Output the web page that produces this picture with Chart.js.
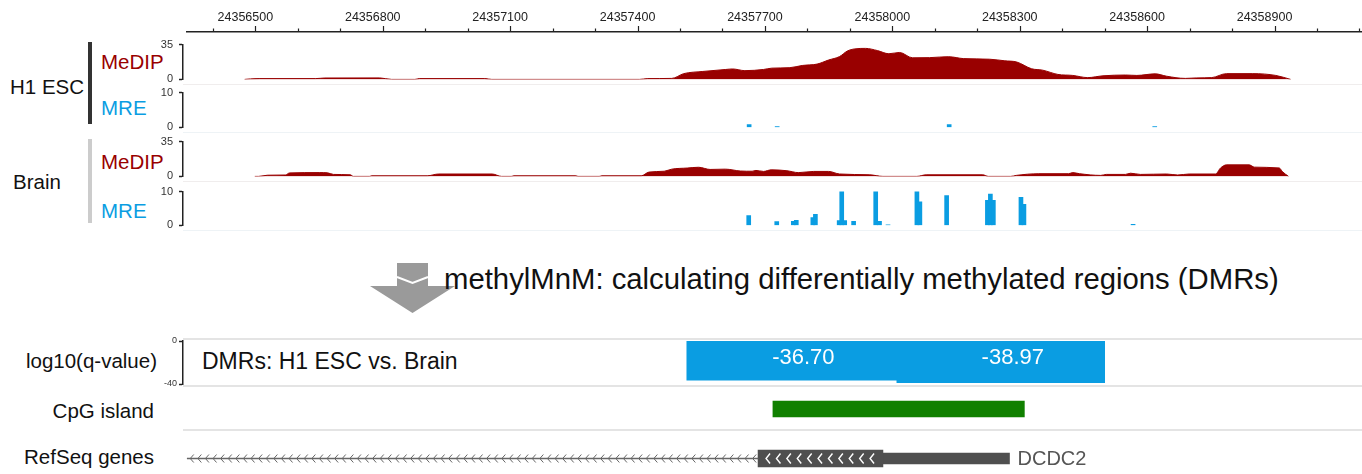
<!DOCTYPE html>
<html>
<head>
<meta charset="utf-8">
<title>methylMnM DMR view</title>
<script src="https://cdn.jsdelivr.net/npm/chart.js@4.4.1/dist/chart.umd.min.js"></script>
<style>
  html, body { margin: 0; padding: 0; background: #fff; }
  #page { position: relative; width: 1362px; height: 474px; overflow: hidden; font-family: "Liberation Sans", Arial, Helvetica, sans-serif; color: #111; }
  #page canvas, #page .box, #page svg { position: absolute; }
  .txt { position: absolute; white-space: nowrap; line-height: 1; }
  .sep { position: absolute; left: 183px; width: 1179px; }
</style>
</head>
<body>
<div id="page">
  <!-- faint track baselines -->
  <div class="sep" style="top:84px;height:1px;background:#f0eded"></div>
  <div class="sep" style="top:132px;height:1px;background:#eef3f6"></div>
  <div class="sep" style="top:181px;height:1px;background:#f0eded"></div>
  <div class="sep" style="top:230px;height:1px;background:#eef3f6"></div>
  <div class="sep" style="top:338px;height:2px;background:#e4e4e4"></div>
  <div class="sep" style="top:385px;height:2px;background:#e4e4e4"></div>
  <div class="sep" style="top:429px;height:2px;background:#e4e4e4"></div>

  <!-- sample labels -->
  <div class="box" style="left:88px;top:42px;width:4px;height:82px;background:#333"></div>
  <div class="box" style="left:88px;top:139px;width:4px;height:84px;background:#ccc"></div>
  <div class="txt" style="left:10px;top:77px;font-size:20.5px">H1 ESC</div>
  <div class="txt" style="left:13px;top:172px;font-size:20.5px">Brain</div>
  <div class="txt" style="left:101px;top:52px;font-size:20.5px;color:#990000">MeDIP</div>
  <div class="txt" style="left:101px;top:98px;font-size:20.5px;color:#0a9de2">MRE</div>
  <div class="txt" style="left:101px;top:152px;font-size:20.5px;color:#990000">MeDIP</div>
  <div class="txt" style="left:101px;top:201px;font-size:20.5px;color:#0a9de2">MRE</div>

  <!-- arrow + step text -->
  <svg style="left:360px;top:258px" width="110" height="60">
    <polygon points="37,5 68,5 68,28 95,28 52.5,55 10,28 37,28" fill="#9a9a9a"/>
    <polyline points="37,19 52.5,25 68,19" stroke="#fff" stroke-width="2" fill="none"/>
  </svg>
  <div class="txt" style="left:444px;top:264px;font-size:29.3px">methylMnM: calculating differentially methylated regions (DMRs)</div>

  <div class="txt" style="right:1205px;top:351px;font-size:20.5px;text-align:right">log10(q-value)</div>
  <div class="txt" style="left:202px;top:350px;font-size:23px">DMRs: H1 ESC vs. Brain</div>
  <div class="txt" style="right:1208px;top:401px;font-size:20.5px;text-align:right">CpG island</div>
  <div class="txt" style="right:1208px;top:447px;font-size:20.5px;text-align:right">RefSeq genes</div>

  <canvas id="ruler" width="1362" height="36" style="left:0;top:0"></canvas>
  <canvas id="h1Medip" width="1362" height="60" style="left:0;top:32px"></canvas>
  <canvas id="h1Mre" width="1362" height="60" style="left:0;top:80px"></canvas>
  <canvas id="brainMedip" width="1362" height="60" style="left:0;top:129px"></canvas>
  <canvas id="brainMre" width="1362" height="59" style="left:0;top:179px"></canvas>
  <canvas id="dmr" width="1362" height="59" style="left:0;top:333px"></canvas>
  <canvas id="cpg" width="1362" height="40" style="left:0;top:389px"></canvas>
  <canvas id="gene" width="1362" height="41" style="left:0;top:438px"></canvas>
</div>

<script>
// genomic window (chr6) shown in the browser
const viewStart = 24356330;
const viewEnd = 24359106;

// ruler labels
const rulerLabels = [24356500, 24356800, 24357100, 24357400, 24357700, 24358000, 24358300, 24358600, 24358900];

// MeDIP coverage
const h1MedipPos = [24356475, 24356489, 24356511, 24356642, 24356664, 24356793, 24356821, 24356876, 24356887, 24357040,
  24357057, 24357405, 24357424, 24357481, 24357509, 24357554, 24357608, 24357624, 24357653, 24357697,
  24357716, 24357759, 24357788, 24357823, 24357850, 24357876, 24357894, 24357912, 24357937, 24357965,
  24357992, 24358017, 24358048, 24358088, 24358133, 24358168, 24358229, 24358265, 24358293, 24358328,
  24358354, 24358390, 24358425, 24358460, 24358496, 24358549, 24358576, 24358619, 24358646, 24358690,
  24358717, 24358752, 24358787, 24358849, 24358903, 24358938];
const h1MedipVal = [0, 0.5, 0.8, 0.8, 1.4, 1.5, 0, 0, 0.8, 0.8,
  0, 0, 0.8, 1, 5.8, 8, 10, 10.5, 8.8, 10,
  11.3, 11.8, 14, 15.4, 19.5, 23, 28.5, 30.7, 31.2, 29,
  25.8, 27.1, 21.7, 21.9, 22.8, 20.9, 20.3, 18.7, 17.5, 10.7,
  9.3, 5, 4, 1.8, 3.6, 4.4, 4, 5.6, 3.2, 1,
  1.5, 1.8, 5.8, 5.8, 4, 0];

const brainMedipPos = [24356499, 24356508, 24356529, 24356571, 24356581, 24356652, 24356670, 24356684, 24356724, 24356731,
  24356769, 24356774, 24356905, 24356932, 24357058, 24357080, 24357103, 24357109, 24357255, 24357260,
  24357310, 24357316, 24357409, 24357427, 24357463, 24357481, 24357517, 24357544, 24357571, 24357607,
  24357643, 24357670, 24357679, 24357697, 24357715, 24357752, 24357779, 24357815, 24357850, 24357876,
  24357947, 24357978, 24358058, 24358080, 24358213, 24358226, 24358279, 24358292, 24358345, 24358415,
  24358425, 24358441, 24358491, 24358504, 24358549, 24358561, 24358584, 24358646, 24358672, 24358699,
  24358761, 24358773, 24358787, 24358840, 24358853, 24358911, 24358919, 24358933];
const brainMedipVal = [0, 0, 1.2, 1.4, 3.5, 3.8, 3.6, 2, 1.6, 0,
  0, 0.6, 0.6, 2.4, 2.4, 0, 0, 0.6, 0.6, 0,
  0, 0.6, 0.6, 4.3, 5.2, 7.3, 8.4, 9.2, 7, 7.3,
  5.4, 5.2, 6, 5, 6.6, 5.7, 3.8, 5, 5, 2.4,
  1.6, 0, 0, 1.6, 1.6, 0, 0, 1, 2.7, 2.7,
  3.8, 2.7, 1, 2, 2, 3.2, 2, 2.4, 1.4, 2.4,
  2.4, 8.5, 11.6, 11.6, 9.3, 8.5, 4.6, 0];

// MRE reads per CpG site
const h1MrePos = [24357663, 24357729, 24358134, 24358618];
const h1MreVal = [0.8, 0.2, 0.8, 0.2];
const brainMrePos = [24357662, 24357728, 24357767, 24357774, 24357813, 24357819, 24357875, 24357881, 24357888, 24357909,
  24357961, 24357970, 24357990, 24358058, 24358065, 24358128, 24358224, 24358231, 24358238, 24358303,
  24358310, 24358567];
const brainMreVal = [2.9, 1.1, 1.2, 1.5, 2.3, 3.3, 1.4, 10.3, 1.4, 1.2,
  11, 1.2, 0.2, 11, 7, 8.8, 7.4, 9.3, 7.4, 8.3,
  6.2, 0.3];

// DMRs (log10 q-value)
const dmrStart = [24357515, 24358010];
const dmrEnd = [24358010, 24358501];
const dmrQ = [-36.70, -38.97];

// CpG island
const cpgStart = [24357719];
const cpgEnd = [24358311];

// RefSeq gene DCDC2 (minus strand, starts left of the view)
const geneName = 'DCDC2';
const geneStart = 24356340;
const exonStart = [24357684, 24357978];
const exonEnd = [24357978, 24358276];

const FONT = "'Liberation Sans', Arial, sans-serif";
Chart.defaults.font.family = FONT;
Chart.defaults.animation = false;
Chart.defaults.events = [];
Chart.defaults.plugins.legend.display = false;
Chart.defaults.plugins.tooltip.enabled = false;

function pts(pos, val) {
  return pos.map((p, i) => ({ x: p, y: val[i] }));
}

function xHidden() {
  return { type: 'linear', display: false, min: viewStart, max: viewEnd, offset: false, grid: { offset: false } };
}

function bracketAxis(min, max, fontSize, pad) {
  return {
    min: min, max: max,
    afterBuildTicks: s => { s.ticks = [{ value: min }, { value: max }]; },
    afterFit: s => { s.width = 183; },
    ticks: { color: '#333', font: { size: fontSize }, padding: pad },
    grid: { drawOnChartArea: false, tickLength: 4, tickColor: '#222', tickWidth: 1.5 },
    border: { color: '#222', width: 1.5 }
  };
}

// ruler: every 100 bp a tick, every 300 bp a label
const rulerTicks = [];
for (let v = 24356400; v <= 24359100; v += 100) rulerTicks.push(v);

const rulerMarks = {
  id: 'rulerMarks',
  afterDraw(chart) {
    const { ctx, scales: { x } } = chart;
    const base = x.bottom;
    ctx.save();
    ctx.strokeStyle = '#222';
    ctx.lineWidth = 1.2;
    rulerTicks.forEach(v => {
      const px = Math.round(x.getPixelForValue(v)) + 0.5;
      const len = rulerLabels.includes(v) ? 6 : 3.5;
      ctx.beginPath();
      ctx.moveTo(px, base - len);
      ctx.lineTo(px, base);
      ctx.stroke();
    });
    ctx.restore();
  }
};

new Chart(document.getElementById('ruler'), {
  type: 'scatter',
  data: { datasets: [] },
  options: {
    responsive: false,
    layout: { padding: { left: 187, right: 0, top: 0, bottom: 0 } },
    scales: {
      x: {
        type: 'linear', position: 'top', min: viewStart + 9, max: viewEnd,
        afterBuildTicks: s => { s.ticks = rulerTicks.map(v => ({ value: v })); },
        afterFit: s => { s.height = 32; },
        ticks: {
          autoSkip: false, maxRotation: 0, labelOffset: -10, padding: 1, color: '#222', font: { size: 12.5 },
          callback: v => rulerLabels.includes(v) ? String(v) : ''
        },
        grid: { drawOnChartArea: false, tickLength: 6, tickColor: 'rgba(0,0,0,0)' },
        border: { color: '#222', width: 1.6 }
      },
      y: { display: false }
    }
  },
  plugins: [rulerMarks]
});

function medipChart(id, pos, val) {
  new Chart(document.getElementById(id), {
    type: 'line',
    data: {
      datasets: [{
        data: pts(pos, val), fill: 'origin', backgroundColor: '#990000', borderColor: '#990000',
        borderWidth: 1, pointRadius: 0, cubicInterpolationMode: 'monotone'
      }]
    },
    options: {
      responsive: false,
      layout: { padding: { left: 0, right: 0, top: 8, bottom: 8 } },
      scales: { x: xHidden(), y: bracketAxis(0, 35, 11, 6) }
    }
  });
}

function mreChart(id, pos, val) {
  new Chart(document.getElementById(id), {
    type: 'bar',
    data: { datasets: [{ data: pts(pos, val), backgroundColor: '#0a9de2', barThickness: 4, grouped: false }] },
    options: {
      responsive: false,
      layout: { padding: { left: 0, right: 0, top: 8, bottom: 8 } },
      scales: { x: xHidden(), y: bracketAxis(0, 10, 11, 6) }
    }
  });
}

medipChart('h1Medip', h1MedipPos, h1MedipVal);
mreChart('h1Mre', h1MrePos, h1MreVal);
medipChart('brainMedip', brainMedipPos, brainMedipVal);
mreChart('brainMre', brainMrePos, brainMreVal);

// DMR track
const dmrPoints = [];
dmrQ.forEach((q, i) => {
  dmrPoints.push({ x: dmrStart[i], y: 0 }, { x: dmrStart[i], y: q }, { x: dmrEnd[i], y: q }, { x: dmrEnd[i], y: 0 });
});

const dmrLabels = {
  id: 'dmrLabels',
  afterDatasetsDraw(chart) {
    const { ctx, chartArea, scales: { x } } = chart;
    ctx.save();
    ctx.fillStyle = '#fff';
    ctx.font = '22px ' + FONT;
    ctx.textAlign = 'center';
    ctx.textBaseline = 'middle';
    dmrQ.forEach((q, i) => {
      const cx = (x.getPixelForValue(dmrStart[i]) + x.getPixelForValue(dmrEnd[i])) / 2 + 12;
      ctx.fillText(q.toFixed(2), cx, chartArea.top + 17);
    });
    ctx.restore();
  }
};

new Chart(document.getElementById('dmr'), {
  type: 'line',
  data: { datasets: [{ data: dmrPoints, fill: 'origin', backgroundColor: '#0a9de2', borderColor: '#0a9de2', borderWidth: 0, pointRadius: 0, tension: 0 }] },
  options: {
    responsive: false,
    layout: { padding: { left: 0, right: 0, top: 8, bottom: 8 } },
    scales: { x: xHidden(), y: bracketAxis(-40, 0, 9, 2) }
  },
  plugins: [dmrLabels]
});

// CpG island
new Chart(document.getElementById('cpg'), {
  type: 'bar',
  data: {
    labels: ['CpG'],
    datasets: [{ data: cpgStart.map((s, i) => [s, cpgEnd[i]]), backgroundColor: '#108000', barThickness: 16 }]
  },
  options: {
    indexAxis: 'y', responsive: false,
    layout: { padding: { left: 183, right: 0, top: 0, bottom: 0 } },
    scales: { x: xHidden(), y: { display: false } }
  }
});

// RefSeq gene
const geneGlyphs = {
  id: 'geneGlyphs',
  afterDatasetsDraw(chart) {
    const { ctx, scales: { x, y } } = chart;
    const cy = y.getPixelForValue(0);
    ctx.save();
    // intron direction marks
    ctx.strokeStyle = '#666';
    ctx.lineWidth = 1;
    const iEnd = x.getPixelForValue(exonStart[0]) - 2;
    for (let px = x.getPixelForValue(geneStart) + 3; px < iEnd - 3; px += 7.6) {
      ctx.beginPath();
      ctx.moveTo(px + 3.5, cy - 4);
      ctx.lineTo(px, cy);
      ctx.lineTo(px + 3.5, cy + 4);
      ctx.stroke();
    }
    // marks inside coding exon
    ctx.strokeStyle = '#fff';
    ctx.lineWidth = 1.4;
    const eEnd = x.getPixelForValue(exonEnd[0]) - 6;
    for (let px = x.getPixelForValue(exonStart[0]) + 8; px < eEnd; px += 10.4) {
      ctx.beginPath();
      ctx.moveTo(px + 4, cy - 5);
      ctx.lineTo(px, cy);
      ctx.lineTo(px + 4, cy + 5);
      ctx.stroke();
    }
    ctx.fillStyle = '#555';
    ctx.font = '20px ' + FONT;
    ctx.textAlign = 'left';
    ctx.textBaseline = 'middle';
    ctx.fillText(geneName, x.getPixelForValue(exonEnd[exonEnd.length - 1]) + 8, cy + 1);
    ctx.restore();
  }
};

new Chart(document.getElementById('gene'), {
  type: 'bar',
  data: {
    labels: [geneName],
    datasets: [
      { data: [[geneStart, exonStart[0]]], backgroundColor: '#666', barThickness: 1, grouped: false },
      { data: [[exonStart[0], exonEnd[0]]], backgroundColor: '#4f4f4f', barThickness: 17, grouped: false },
      { data: [[exonStart[1], exonEnd[1]]], backgroundColor: '#4f4f4f', barThickness: 11, grouped: false }
    ]
  },
  options: {
    indexAxis: 'y', responsive: false,
    layout: { padding: { left: 183, right: 0, top: 0, bottom: 0 } },
    scales: { x: xHidden(), y: { display: false } }
  },
  plugins: [geneGlyphs]
});
</script>
</body>
</html>
